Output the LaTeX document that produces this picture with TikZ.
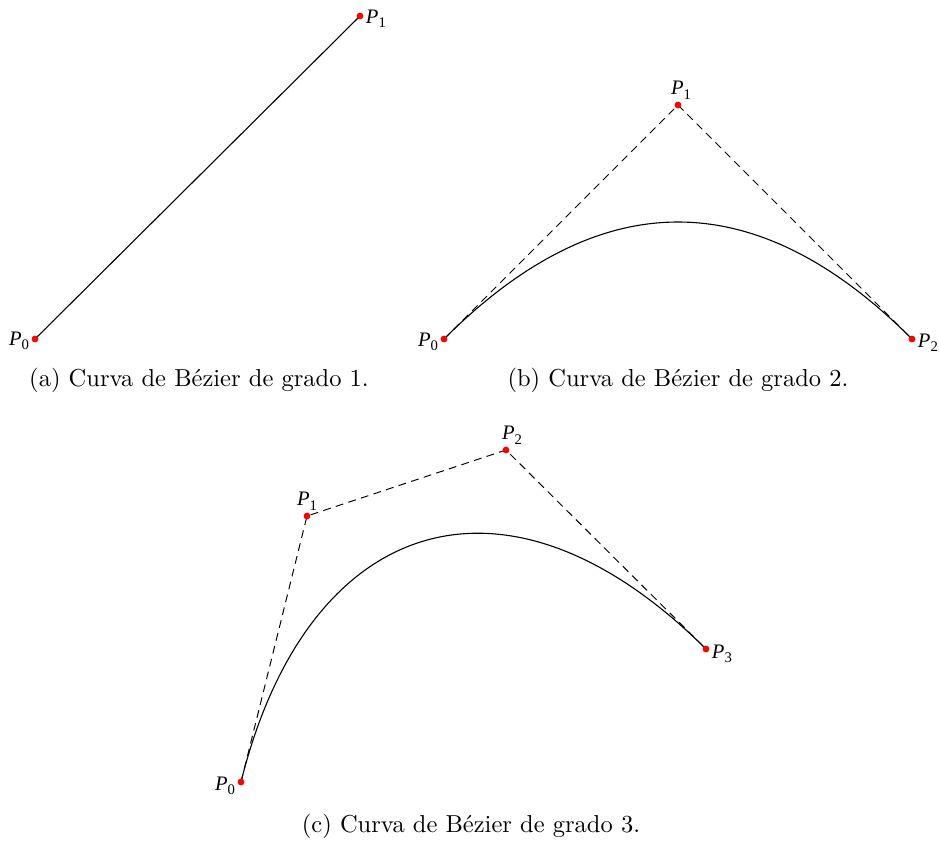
\documentclass[tikz,border=0pt]{standalone}
\usepackage{fontspec}
\newfontfamily\labfont{Liberation Serif}
\usetikzlibrary{calc}
\newcommand\plab[1]{{\labfont\fontsize{8.4}{9}\selectfont\textit{P}\raisebox{-0.45ex}{\fontsize{6}{7}\selectfont #1}}}
\begin{document}
\begin{tikzpicture}[x=0.408pt,y=-0.408pt,
  ptdot/.style={circle,fill=red,inner sep=0pt,minimum size=2.8pt},
  ctrl/.style={dash pattern=on 3.2pt off 2.2pt, line width=0.4pt},
  curve/.style={line width=0.45pt},
  lbl/.style={inner sep=1pt},
  capt/.style={font=\normalsize, inner sep=0pt}]
\useasboundingbox (0,0) rectangle (939,842);
% (a)
\coordinate (a0) at (35,339);
\coordinate (a1) at (360,16);
\draw[curve] (a0) -- (a1);
\node[ptdot] (da0) at (a0) {};
\node[ptdot] (da1) at (a1) {};
\node[lbl, anchor=east] (la0) at ($(a0)+(-3,2)$) {\plab{0}};
\node[lbl, anchor=west] (la1) at ($(a1)+(3,3)$) {\plab{1}};
\node[capt] (capa) at (199,380) {(a) Curva de Bézier de grado 1.};
% (b)
\coordinate (b0) at (444,339);
\coordinate (b1) at (678,105);
\coordinate (b2) at (912,339);
\draw[ctrl] (b0) -- (b1) -- (b2);
\draw[curve] (b0) .. controls ($(b0)!2/3!(b1)$) and ($(b2)!2/3!(b1)$) .. (b2);
\node[ptdot] (db0) at (b0) {};
\node[ptdot] (db1) at (b1) {};
\node[ptdot] (db2) at (b2) {};
\node[lbl, anchor=east] (lb0) at ($(b0)+(-3,3)$) {\plab{0}};
\node[lbl, anchor=south] (lb1) at ($(b1)+(3,-3)$) {\plab{1}};
\node[lbl, anchor=west] (lb2) at ($(b2)+(3,4)$) {\plab{2}};
\node[capt] (capb) at (678,380) {(b) Curva de Bézier de grado 2.};
% (c)
\coordinate (c0) at (241,782);
\coordinate (c1) at (307,516);
\coordinate (c2) at (506,450);
\coordinate (c3) at (706,649);
\draw[ctrl] (c0) -- (c1) -- (c2) -- (c3);
\draw[curve] (c0) .. controls (c1) and (c2) .. (c3);
\node[ptdot] (dc0) at (c0) {};
\node[ptdot] (dc1) at (c1) {};
\node[ptdot] (dc2) at (c2) {};
\node[ptdot] (dc3) at (c3) {};
\node[lbl, anchor=east] (lc0) at ($(c0)+(-3,4)$) {\plab{0}};
\node[lbl, anchor=south] (lc1) at ($(c1)+(0,-3)$) {\plab{1}};
\node[lbl, anchor=south] (lc2) at ($(c2)+(6,-3)$) {\plab{2}};
\node[lbl, anchor=west] (lc3) at ($(c3)+(3,5)$) {\plab{3}};
\node[capt] (capc) at (471,826) {(c) Curva de Bézier de grado 3.};
\end{tikzpicture}
\end{document}
